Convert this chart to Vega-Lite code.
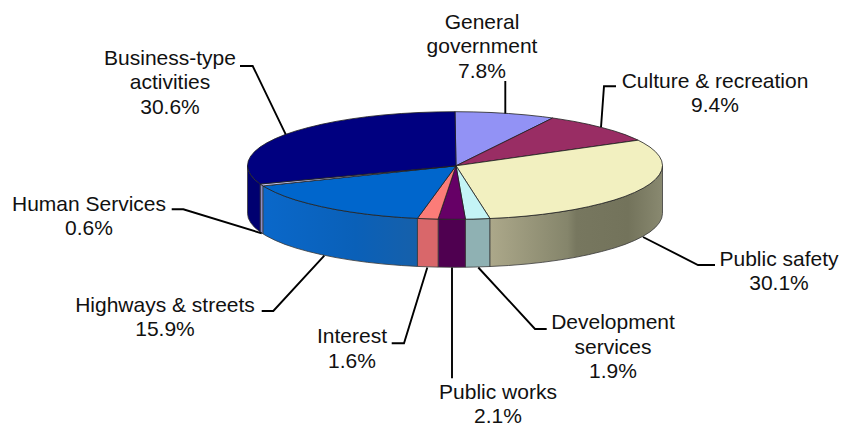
{
"$schema":"https://vega.github.io/schema/vega-lite/v6.json",
"width":842,"height":424,"padding":0,
"autosize":{"type":"none"},
"background":"white",
"config":{"view":{"stroke":null}},
"datasets":{
"tops":[
{"slice":"General government","i":0,"x":456,"y":165.8},{"slice":"General government","i":1,"x":455,"y":111.7},{"slice":"General government","i":2,"x":473.1,"y":111.9},{"slice":"General government","i":3,"x":491,"y":112.5},{"slice":"General government","i":4,"x":508.7,"y":113.5},{"slice":"General government","i":5,"x":526,"y":114.9},{"slice":"General government","i":6,"x":542.7,"y":116.7},{"slice":"General government","i":7,"x":552.7,"y":118},{"slice":"General government","i":8,"x":456,"y":165.8},
{"slice":"Culture & recreation","i":0,"x":456,"y":165.8},{"slice":"Culture & recreation","i":1,"x":552.7,"y":118},{"slice":"Culture & recreation","i":2,"x":558.8,"y":118.9},{"slice":"Culture & recreation","i":3,"x":574,"y":121.4},{"slice":"Culture & recreation","i":4,"x":588.4,"y":124.3},{"slice":"Culture & recreation","i":5,"x":601.7,"y":127.5},{"slice":"Culture & recreation","i":6,"x":614,"y":130.9},{"slice":"Culture & recreation","i":7,"x":625,"y":134.6},{"slice":"Culture & recreation","i":8,"x":634.7,"y":138.6},{"slice":"Culture & recreation","i":9,"x":638.1,"y":140.2},{"slice":"Culture & recreation","i":10,"x":456,"y":165.8},
{"slice":"Public safety","i":0,"x":456,"y":165.8},{"slice":"Public safety","i":1,"x":638.1,"y":140.2},{"slice":"Public safety","i":2,"x":643.1,"y":142.8},{"slice":"Public safety","i":3,"x":650,"y":147.1},{"slice":"Public safety","i":4,"x":655.4,"y":151.6},{"slice":"Public safety","i":5,"x":659.3,"y":156.2},{"slice":"Public safety","i":6,"x":661.7,"y":160.8},{"slice":"Public safety","i":7,"x":662.5,"y":165.5},{"slice":"Public safety","i":8,"x":661.7,"y":170.2},{"slice":"Public safety","i":9,"x":659.3,"y":174.8},{"slice":"Public safety","i":10,"x":655.4,"y":179.4},{"slice":"Public safety","i":11,"x":650,"y":183.9},{"slice":"Public safety","i":12,"x":643.1,"y":188.2},{"slice":"Public safety","i":13,"x":634.7,"y":192.4},{"slice":"Public safety","i":14,"x":625,"y":196.4},{"slice":"Public safety","i":15,"x":614,"y":200.1},{"slice":"Public safety","i":16,"x":601.7,"y":203.5},{"slice":"Public safety","i":17,"x":588.4,"y":206.7},{"slice":"Public safety","i":18,"x":574,"y":209.6},{"slice":"Public safety","i":19,"x":558.8,"y":212.1},{"slice":"Public safety","i":20,"x":542.7,"y":214.3},{"slice":"Public safety","i":21,"x":526,"y":216.1},{"slice":"Public safety","i":22,"x":508.7,"y":217.5},{"slice":"Public safety","i":23,"x":490,"y":218.5},{"slice":"Public safety","i":24,"x":456,"y":165.8},
{"slice":"Development services","i":0,"x":456,"y":165.8},{"slice":"Development services","i":1,"x":490,"y":218.5},{"slice":"Development services","i":2,"x":473.1,"y":219.1},{"slice":"Development services","i":3,"x":465.4,"y":219.2},{"slice":"Development services","i":4,"x":456,"y":165.8},
{"slice":"Public works","i":0,"x":456,"y":165.8},{"slice":"Public works","i":1,"x":465.4,"y":219.2},{"slice":"Public works","i":2,"x":455,"y":219.3},{"slice":"Public works","i":3,"x":438.1,"y":219.1},{"slice":"Public works","i":4,"x":456,"y":165.8},
{"slice":"Interest","i":0,"x":456,"y":165.8},{"slice":"Interest","i":1,"x":438.1,"y":219.1},{"slice":"Interest","i":2,"x":419,"y":218.5},{"slice":"Interest","i":3,"x":417.4,"y":218.4},{"slice":"Interest","i":4,"x":456,"y":165.8},
{"slice":"Highways & streets","i":0,"x":456,"y":165.8},{"slice":"Highways & streets","i":1,"x":417.4,"y":218.4},{"slice":"Highways & streets","i":2,"x":401.3,"y":217.5},{"slice":"Highways & streets","i":3,"x":384,"y":216.1},{"slice":"Highways & streets","i":4,"x":367.3,"y":214.3},{"slice":"Highways & streets","i":5,"x":351.2,"y":212.1},{"slice":"Highways & streets","i":6,"x":336,"y":209.6},{"slice":"Highways & streets","i":7,"x":321.6,"y":206.7},{"slice":"Highways & streets","i":8,"x":308.3,"y":203.5},{"slice":"Highways & streets","i":9,"x":296,"y":200.1},{"slice":"Highways & streets","i":10,"x":285,"y":196.4},{"slice":"Highways & streets","i":11,"x":275.3,"y":192.4},{"slice":"Highways & streets","i":12,"x":266.9,"y":188.2},{"slice":"Highways & streets","i":13,"x":263.1,"y":185.9},{"slice":"Highways & streets","i":14,"x":456,"y":165.8},
{"slice":"Human Services","i":0,"x":456,"y":165.8},{"slice":"Human Services","i":1,"x":263.1,"y":185.9},{"slice":"Human Services","i":2,"x":260.2,"y":184},{"slice":"Human Services","i":3,"x":456,"y":165.8},
{"slice":"Business-type activities","i":0,"x":456,"y":165.8},{"slice":"Business-type activities","i":1,"x":260.2,"y":184},{"slice":"Business-type activities","i":2,"x":254.6,"y":179.4},{"slice":"Business-type activities","i":3,"x":250.7,"y":174.8},{"slice":"Business-type activities","i":4,"x":248.3,"y":170.2},{"slice":"Business-type activities","i":5,"x":247.5,"y":165.5},{"slice":"Business-type activities","i":6,"x":248.3,"y":160.8},{"slice":"Business-type activities","i":7,"x":250.7,"y":156.2},{"slice":"Business-type activities","i":8,"x":254.6,"y":151.6},{"slice":"Business-type activities","i":9,"x":260,"y":147.1},{"slice":"Business-type activities","i":10,"x":266.9,"y":142.8},{"slice":"Business-type activities","i":11,"x":275.3,"y":138.6},{"slice":"Business-type activities","i":12,"x":285,"y":134.6},{"slice":"Business-type activities","i":13,"x":296,"y":130.9},{"slice":"Business-type activities","i":14,"x":308.3,"y":127.5},{"slice":"Business-type activities","i":15,"x":321.6,"y":124.3},{"slice":"Business-type activities","i":16,"x":336,"y":121.4},{"slice":"Business-type activities","i":17,"x":351.2,"y":118.9},{"slice":"Business-type activities","i":18,"x":367.3,"y":116.7},{"slice":"Business-type activities","i":19,"x":384,"y":114.9},{"slice":"Business-type activities","i":20,"x":401.3,"y":113.5},{"slice":"Business-type activities","i":21,"x":419,"y":112.5},{"slice":"Business-type activities","i":22,"x":436.9,"y":111.9},{"slice":"Business-type activities","i":23,"x":455,"y":111.7},{"slice":"Business-type activities","i":24,"x":456,"y":165.8}
],
"sides":[
{"slice":"Public safety","i":0,"x":662.5,"y":165.5},{"slice":"Public safety","i":1,"x":661.7,"y":170.2},{"slice":"Public safety","i":2,"x":659.3,"y":174.8},{"slice":"Public safety","i":3,"x":655.4,"y":179.4},{"slice":"Public safety","i":4,"x":650,"y":183.9},{"slice":"Public safety","i":5,"x":643.1,"y":188.2},{"slice":"Public safety","i":6,"x":634.7,"y":192.4},{"slice":"Public safety","i":7,"x":625,"y":196.4},{"slice":"Public safety","i":8,"x":614,"y":200.1},{"slice":"Public safety","i":9,"x":601.7,"y":203.5},{"slice":"Public safety","i":10,"x":588.4,"y":206.7},{"slice":"Public safety","i":11,"x":574,"y":209.6},{"slice":"Public safety","i":12,"x":558.8,"y":212.1},{"slice":"Public safety","i":13,"x":542.7,"y":214.3},{"slice":"Public safety","i":14,"x":526,"y":216.1},{"slice":"Public safety","i":15,"x":508.7,"y":217.5},{"slice":"Public safety","i":16,"x":490,"y":218.5},{"slice":"Public safety","i":17,"x":490,"y":266.5},{"slice":"Public safety","i":18,"x":508.7,"y":265.5},{"slice":"Public safety","i":19,"x":526,"y":264.1},{"slice":"Public safety","i":20,"x":542.7,"y":262.3},{"slice":"Public safety","i":21,"x":558.8,"y":260.1},{"slice":"Public safety","i":22,"x":574,"y":257.6},{"slice":"Public safety","i":23,"x":588.4,"y":254.7},{"slice":"Public safety","i":24,"x":601.7,"y":251.5},{"slice":"Public safety","i":25,"x":614,"y":248.1},{"slice":"Public safety","i":26,"x":625,"y":244.4},{"slice":"Public safety","i":27,"x":634.7,"y":240.4},{"slice":"Public safety","i":28,"x":643.1,"y":236.2},{"slice":"Public safety","i":29,"x":650,"y":231.9},{"slice":"Public safety","i":30,"x":655.4,"y":227.4},{"slice":"Public safety","i":31,"x":659.3,"y":222.8},{"slice":"Public safety","i":32,"x":661.7,"y":218.2},{"slice":"Public safety","i":33,"x":662.5,"y":213.5},{"slice":"Public safety","i":34,"x":662.5,"y":165.5},
{"slice":"Development services","i":0,"x":490,"y":218.5},{"slice":"Development services","i":1,"x":473.1,"y":219.1},{"slice":"Development services","i":2,"x":465.4,"y":219.2},{"slice":"Development services","i":3,"x":465.4,"y":267.2},{"slice":"Development services","i":4,"x":473.1,"y":267.1},{"slice":"Development services","i":5,"x":490,"y":266.5},{"slice":"Development services","i":6,"x":490,"y":218.5},
{"slice":"Public works","i":0,"x":465.4,"y":219.2},{"slice":"Public works","i":1,"x":455,"y":219.3},{"slice":"Public works","i":2,"x":438.1,"y":219.1},{"slice":"Public works","i":3,"x":438.1,"y":267.1},{"slice":"Public works","i":4,"x":455,"y":267.3},{"slice":"Public works","i":5,"x":465.4,"y":267.2},{"slice":"Public works","i":6,"x":465.4,"y":219.2},
{"slice":"Interest","i":0,"x":438.1,"y":219.1},{"slice":"Interest","i":1,"x":419,"y":218.5},{"slice":"Interest","i":2,"x":417.4,"y":218.4},{"slice":"Interest","i":3,"x":417.4,"y":266.4},{"slice":"Interest","i":4,"x":419,"y":266.5},{"slice":"Interest","i":5,"x":438.1,"y":267.1},{"slice":"Interest","i":6,"x":438.1,"y":219.1},
{"slice":"Highways & streets","i":0,"x":417.4,"y":218.4},{"slice":"Highways & streets","i":1,"x":401.3,"y":217.5},{"slice":"Highways & streets","i":2,"x":384,"y":216.1},{"slice":"Highways & streets","i":3,"x":367.3,"y":214.3},{"slice":"Highways & streets","i":4,"x":351.2,"y":212.1},{"slice":"Highways & streets","i":5,"x":336,"y":209.6},{"slice":"Highways & streets","i":6,"x":321.6,"y":206.7},{"slice":"Highways & streets","i":7,"x":308.3,"y":203.5},{"slice":"Highways & streets","i":8,"x":296,"y":200.1},{"slice":"Highways & streets","i":9,"x":285,"y":196.4},{"slice":"Highways & streets","i":10,"x":275.3,"y":192.4},{"slice":"Highways & streets","i":11,"x":266.9,"y":188.2},{"slice":"Highways & streets","i":12,"x":263.1,"y":185.9},{"slice":"Highways & streets","i":13,"x":263.1,"y":233.9},{"slice":"Highways & streets","i":14,"x":266.9,"y":236.2},{"slice":"Highways & streets","i":15,"x":275.3,"y":240.4},{"slice":"Highways & streets","i":16,"x":285,"y":244.4},{"slice":"Highways & streets","i":17,"x":296,"y":248.1},{"slice":"Highways & streets","i":18,"x":308.3,"y":251.5},{"slice":"Highways & streets","i":19,"x":321.6,"y":254.7},{"slice":"Highways & streets","i":20,"x":336,"y":257.6},{"slice":"Highways & streets","i":21,"x":351.2,"y":260.1},{"slice":"Highways & streets","i":22,"x":367.3,"y":262.3},{"slice":"Highways & streets","i":23,"x":384,"y":264.1},{"slice":"Highways & streets","i":24,"x":401.3,"y":265.5},{"slice":"Highways & streets","i":25,"x":417.4,"y":266.4},{"slice":"Highways & streets","i":26,"x":417.4,"y":218.4},
{"slice":"Human Services","i":0,"x":263.1,"y":185.9},{"slice":"Human Services","i":1,"x":260.2,"y":184},{"slice":"Human Services","i":2,"x":260.2,"y":232},{"slice":"Human Services","i":3,"x":263.1,"y":233.9},{"slice":"Human Services","i":4,"x":263.1,"y":185.9},
{"slice":"Business-type activities","i":0,"x":260.2,"y":184},{"slice":"Business-type activities","i":1,"x":254.6,"y":179.4},{"slice":"Business-type activities","i":2,"x":250.7,"y":174.8},{"slice":"Business-type activities","i":3,"x":248.3,"y":170.2},{"slice":"Business-type activities","i":4,"x":247.5,"y":165.5},{"slice":"Business-type activities","i":5,"x":247.5,"y":213.5},{"slice":"Business-type activities","i":6,"x":248.3,"y":218.2},{"slice":"Business-type activities","i":7,"x":250.7,"y":222.8},{"slice":"Business-type activities","i":8,"x":254.6,"y":227.4},{"slice":"Business-type activities","i":9,"x":260.2,"y":232},{"slice":"Business-type activities","i":10,"x":260.2,"y":184}
],
"leaders":[
{"slice":"General government","i":0,"x":505.3,"y":81},{"slice":"General government","i":1,"x":505.3,"y":113.5},
{"slice":"Culture & recreation","i":0,"x":616,"y":86.3},{"slice":"Culture & recreation","i":1,"x":604,"y":86.3},{"slice":"Culture & recreation","i":2,"x":601,"y":127.3},
{"slice":"Public safety","i":0,"x":643,"y":237},{"slice":"Public safety","i":1,"x":698,"y":265},{"slice":"Public safety","i":2,"x":715,"y":265},
{"slice":"Development services","i":0,"x":478.3,"y":267.5},{"slice":"Development services","i":1,"x":535,"y":329},{"slice":"Development services","i":2,"x":546.7,"y":329},
{"slice":"Public works","i":0,"x":452,"y":267.5},{"slice":"Public works","i":1,"x":452,"y":378.3},
{"slice":"Interest","i":0,"x":427.3,"y":267.5},{"slice":"Interest","i":1,"x":404,"y":343.3},{"slice":"Interest","i":2,"x":391.7,"y":343.3},
{"slice":"Highways & streets","i":0,"x":324.3,"y":255.7},{"slice":"Highways & streets","i":1,"x":273.3,"y":311},{"slice":"Highways & streets","i":2,"x":261.7,"y":311},
{"slice":"Human Services","i":0,"x":171.7,"y":209.3},{"slice":"Human Services","i":1,"x":183.3,"y":209.3},{"slice":"Human Services","i":2,"x":261.7,"y":233.3},
{"slice":"Business-type activities","i":0,"x":240,"y":66},{"slice":"Business-type activities","i":1,"x":252.7,"y":66},{"slice":"Business-type activities","i":2,"x":285.7,"y":134.3}
],
"labels":[
{"label":"General\ngovernment\n7.8%","share":7.8,"x":482,"y":28.5},
{"label":"Culture & recreation\n9.4%","share":9.4,"x":715,"y":87.5},
{"label":"Public safety\n30.1%","share":30.1,"x":779,"y":265.5},
{"label":"Development\nservices\n1.9%","share":1.9,"x":613,"y":329},
{"label":"Public works\n2.1%","share":2.1,"x":498,"y":398.5},
{"label":"Interest\n1.6%","share":1.6,"x":352,"y":343},
{"label":"Highways & streets\n15.9%","share":15.9,"x":165,"y":311.5},
{"label":"Human Services\n0.6%","share":0.6,"x":89,"y":210.5},
{"label":"Business-type\nactivities\n30.6%","share":30.6,"x":170,"y":64.5}
]
},
"encoding":{
"x":{"field":"x","type":"quantitative","axis":null,"scale":{"domain":[0,842],"nice":false,"zero":false}},
"y":{"field":"y","type":"quantitative","axis":null,"scale":{"domain":[424,0],"nice":false,"zero":false}}
},
"layer":[
{"data":{"name":"sides"},
 "transform":[{"filter":"datum.slice !== 'Public safety' && datum.slice !== 'Highways & streets'"}],
 "mark":{"type":"line","filled":true,"stroke":"#3a3a3a","strokeWidth":0.8},
 "encoding":{"order":{"field":"i","type":"quantitative"},
  "fill":{"field":"slice","type":"nominal","legend":null,"scale":{"domain":["Development services","Public works","Interest","Human Services","Business-type activities"],"range":["#8fb1b3","#4f0050","#d9676a","#8d8dc4","#000070"]}}}},
{"data":{"name":"sides"},
 "transform":[{"filter":"datum.slice === 'Public safety'"}],
 "mark":{"type":"line","filled":true,"stroke":"#3a3a3a","strokeWidth":0.8,
  "fill":{"gradient":"linear","x1":0,"y1":0,"x2":1,"y2":0,"stops":[{"offset":0,"color":"#aca88a"},{"offset":0.45,"color":"#85856b"},{"offset":0.5,"color":"#77775f"},{"offset":0.8,"color":"#73735b"},{"offset":1,"color":"#898970"}]}},
 "encoding":{"order":{"field":"i","type":"quantitative"}}},
{"data":{"name":"sides"},
 "transform":[{"filter":"datum.slice === 'Highways & streets'"}],
 "mark":{"type":"line","filled":true,"stroke":"#3a3a3a","strokeWidth":0.8,
  "fill":{"gradient":"linear","x1":0,"y1":0,"x2":1,"y2":0,"stops":[{"offset":0,"color":"#0a68ca"},{"offset":0.6,"color":"#0a60b8"},{"offset":1,"color":"#1660aa"}]}},
 "encoding":{"order":{"field":"i","type":"quantitative"}}},
{"data":{"name":"tops"},
 "mark":{"type":"line","filled":true,"stroke":"#1f1f1f","strokeWidth":0.8},
 "encoding":{"order":{"field":"i","type":"quantitative"},
  "fill":{"field":"slice","type":"nominal","legend":null,"scale":{"domain":["General government","Culture & recreation","Public safety","Development services","Public works","Interest","Highways & streets","Human Services","Business-type activities"],"range":["#9292f5","#992d64","#f2f0c0","#c4f4f6","#660066","#fb7c78","#0066cc","#c4c4ee","#000080"]}}}},
{"data":{"name":"leaders"},
 "mark":{"type":"line","stroke":"#000000","strokeWidth":1.9},
 "encoding":{"order":{"field":"i","type":"quantitative"},"detail":{"field":"slice"}}},
{"data":{"name":"labels"},
 "mark":{"type":"text","font":"Liberation Sans","fontSize":21,"align":"center","baseline":"alphabetic","lineBreak":"\n","lineHeight":24.5,"color":"#111111"},
 "encoding":{"text":{"field":"label"}}}
],
"resolve":{"scale":{"fill":"independent"}}
}
